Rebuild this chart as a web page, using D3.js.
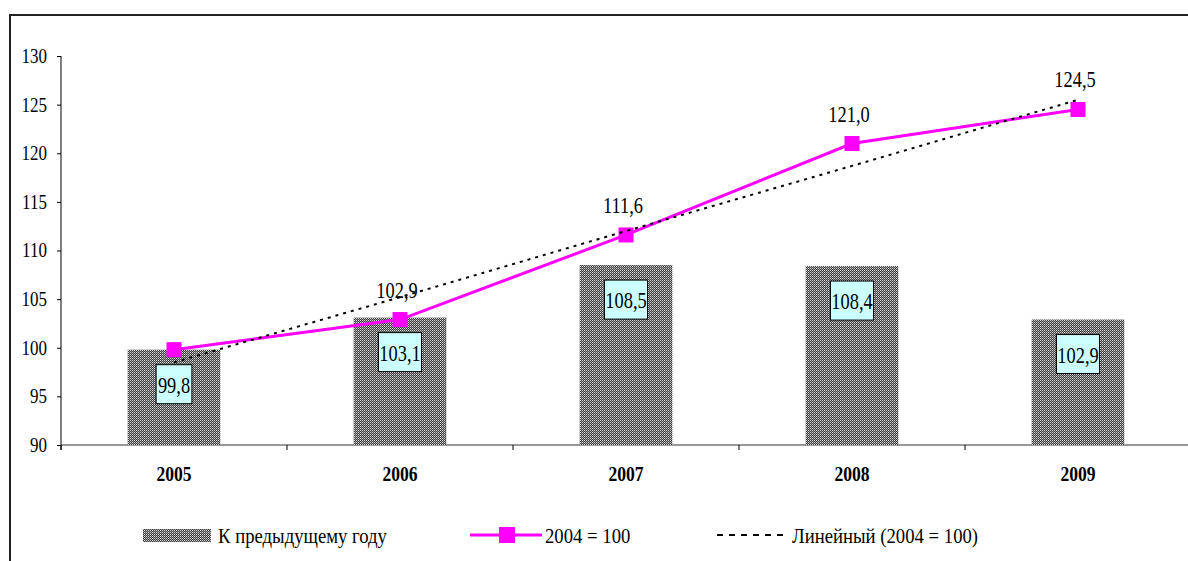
<!DOCTYPE html>
<html>
<head>
<meta charset="utf-8">
<script src="https://cdn.jsdelivr.net/npm/d3@7"></script>
<style>
  body { margin: 0; background: #fff; }
</style>
</head>
<body>
<div id="chart"></div>
<script>
// data
const years = ["2005", "2006", "2007", "2008", "2009"];
const prevYear = [99.8, 103.1, 108.5, 108.4, 102.9];
const base2004 = [99.8, 102.9, 111.6, 121.0, 124.5];
const trend = [98.5, 105.2, 112.0, 118.7, 125.5];
const lineLabels = ["", "102,9", "111,6", "121,0", "124,5"];
const yTicks = [90, 95, 100, 105, 110, 115, 120, 125, 130];
const legendNames = ["К предыдущему году", "2004 = 100", "Линейный (2004 = 100)"];

const W = 1188, H = 561;
const plot = { left: 61, top: 56, right: 1191, bottom: 445 };
const serif = "'Liberation Serif', 'DejaVu Serif', 'Times New Roman', serif";

const svg = d3.select("#chart").append("svg")
  .attr("width", W).attr("height", H);

// squeeze text horizontally like the original
function condense(sel, k) {
  sel.each(function () {
    const w = this.getComputedTextLength();
    d3.select(this).attr("textLength", w * k).attr("lengthAdjust", "spacingAndGlyphs");
  });
}

// hatch pattern for bars
const defs = svg.append("defs");
const pat = defs.append("pattern").attr("id", "dots")
  .attr("width", 2).attr("height", 2).attr("patternUnits", "userSpaceOnUse");
pat.append("rect").attr("width", 2).attr("height", 2).attr("fill", "#3a3a3a");
pat.append("rect").attr("x", 0).attr("y", 0).attr("width", 1).attr("height", 1).attr("fill", "#e0e0e0");
pat.append("rect").attr("x", 1).attr("y", 1).attr("width", 1).attr("height", 1).attr("fill", "#9a9a9a");

// outer frame (cut off on the right and bottom)
svg.append("rect")
  .attr("x", 10).attr("y", 15).attr("width", 1400).attr("height", 1000)
  .attr("fill", "none").attr("stroke", "#222").attr("stroke-width", 2);

const x = d3.scaleBand().domain(years)
  .range([plot.left, plot.right])
  .paddingInner(0.59).paddingOuter(0.295);
const y = d3.scaleLinear().domain([90, 130]).range([plot.bottom, plot.top]);

// y axis
const yAxis = svg.append("g")
  .attr("transform", "translate(" + plot.left + ",0)")
  .call(d3.axisLeft(y).tickValues(yTicks).tickSize(4).tickPadding(10).tickFormat(d3.format("d")));
yAxis.select(".domain").attr("d", "M0," + (plot.top) + "V" + (plot.bottom + 5)).attr("stroke", "#000");
yAxis.selectAll("text").style("font-family", serif).style("font-size", "20px");
condense(yAxis.selectAll("text"), 0.85);

// x axis
const xAxis = svg.append("g")
  .attr("transform", "translate(0," + plot.bottom + ")")
  .call(d3.axisBottom(x).tickSize(0).tickPadding(22));
xAxis.select(".domain").attr("d", "M" + plot.left + ",0H" + W).attr("stroke", "#333");
xAxis.selectAll("text").style("font-family", serif).style("font-size", "20px").style("font-weight", "bold");
condense(xAxis.selectAll("text"), 0.88);
// boundary ticks between categories
const bounds = [plot.left].concat(years.map(d => x(d) + x.bandwidth() / 2 + x.step() / 2));
xAxis.selectAll(".btick").data(bounds).enter().append("line")
  .attr("x1", d => d).attr("x2", d => d).attr("y1", 0).attr("y2", 5)
  .attr("stroke", "#000");

// bars
svg.append("g").selectAll("rect").data(prevYear).enter().append("rect")
  .attr("x", (d, i) => x(years[i]))
  .attr("y", d => y(d))
  .attr("width", x.bandwidth())
  .attr("height", d => plot.bottom - y(d))
  .attr("fill", "url(#dots)");

// bar labels in boxes
const bl = svg.append("g").selectAll("g").data(prevYear).enter().append("g");
bl.each(function (d, i) {
  const g = d3.select(this);
  const cx = x(years[i]) + x.bandwidth() / 2;
  const top = y(d) + 15;
  const box = g.append("rect");
  const t = g.append("text")
    .attr("x", cx).attr("y", top + 28)
    .attr("text-anchor", "middle")
    .style("font-family", serif)
    .style("font-size", "23px")
    .text(d3.format(".1f")(d).replace(".", ","));
  condense(t, 0.8);
  const w = t.node().getComputedTextLength() * 0.8;
  box.attr("x", cx - w / 2 - 5).attr("y", top)
    .attr("width", w + 10).attr("height", 39)
    .attr("fill", "#ccffff").attr("stroke", "#000").attr("stroke-width", 1);
});

const cxOf = i => x(years[i]) + x.bandwidth() / 2;

// main line
const line = d3.line().x((d, i) => cxOf(i)).y(d => y(d));
svg.append("path").datum(base2004)
  .attr("d", line).attr("fill", "none")
  .attr("stroke", "#ff00ff").attr("stroke-width", 3);
svg.append("g").selectAll("rect").data(base2004).enter().append("rect")
  .attr("x", (d, i) => cxOf(i) - 7.5).attr("y", d => y(d) - 7.5)
  .attr("width", 15).attr("height", 15)
  .attr("fill", "#ff00ff");

// line labels
const ll = svg.append("g").selectAll("text").data(base2004).enter().append("text")
  .attr("x", (d, i) => cxOf(i) - 3)
  .attr("y", d => y(d) - 22)
  .attr("text-anchor", "middle")
  .style("font-family", serif)
  .style("font-size", "23px")
  .text((d, i) => lineLabels[i]);
condense(ll.filter((d, i) => lineLabels[i] !== ""), 0.8);

// trend line
svg.append("path").datum(trend)
  .attr("d", line).attr("fill", "none")
  .attr("stroke", "#000").attr("stroke-width", 2)
  .attr("stroke-dasharray", "3,5");

// legend
const lg = svg.append("g");
const ly = 535;
lg.append("rect").attr("x", 143).attr("y", ly - 6).attr("width", 68).attr("height", 13)
  .attr("fill", "url(#dots)");
lg.append("line").attr("x1", 470).attr("x2", 542).attr("y1", ly).attr("y2", ly)
  .attr("stroke", "#ff00ff").attr("stroke-width", 3);
lg.append("rect").attr("x", 499).attr("y", ly - 8).attr("width", 16).attr("height", 16)
  .attr("fill", "#ff00ff");
lg.append("line").attr("x1", 717).attr("x2", 788).attr("y1", ly).attr("y2", ly)
  .attr("stroke", "#000").attr("stroke-width", 2).attr("stroke-dasharray", "6,6");
const lt = lg.selectAll("text").data(legendNames).enter().append("text")
  .attr("x", (d, i) => [218, 545, 792][i])
  .attr("y", ly + 8)
  .style("font-family", serif)
  .style("font-size", "22px")
  .text(d => d);
condense(lt, 0.85);
</script>
</body>
</html>
